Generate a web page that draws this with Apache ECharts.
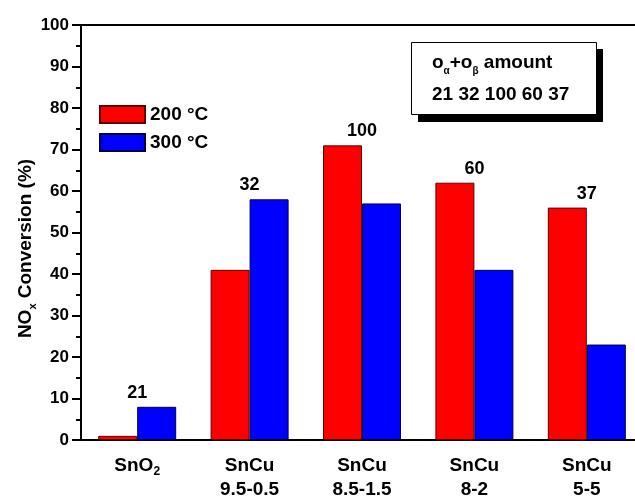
<!DOCTYPE html>
<html>
<head>
<meta charset="utf-8">
<script src="https://cdn.jsdelivr.net/npm/echarts@6/dist/echarts.min.js"></script>
<style>
  html, body { margin: 0; padding: 0; background: #fff; }
  #chart { width: 635px; height: 498px; }
</style>
</head>
<body>
<div id="chart"></div>
<script>
// 样品类别与数据
const categories = ['SnO2', 'SnCu\n9.5-0.5', 'SnCu\n8.5-1.5', 'SnCu\n8-2', 'SnCu\n5-5'];
const conv200 = [1, 41, 71, 62, 56];
const conv300 = [8, 58, 57, 41, 23];
const oxygenAmount = [21, 32, 100, 60, 37];

const FONT = 'Liberation Sans, Arial, sans-serif';

window.addEventListener('DOMContentLoaded', function() {
    initChart();
});

function initChart() {
    const myChart = echarts.init(document.getElementById('chart'));

    // 每组上方的氧含量标签，放在较高柱子上方
    const labelData = oxygenAmount.map((v, i) => ({
        value: Math.max(conv200[i], conv300[i]),
        amount: v
    }));

    const option = {
        animation: false,
        textStyle: { fontFamily: FONT },
        grid: {
            left: 81,
            top: 25,
            width: 562,
            height: 415,
            outerBoundsMode: 'none'
        },
        legend: {
            data: ['200 °C', '300 °C'],
            orient: 'vertical',
            left: 99,
            top: 105,
            padding: 0,
            icon: 'rect',
            itemWidth: 45,
            itemHeight: 17,
            itemGap: 9,
            textStyle: { fontSize: 19, fontWeight: 'bold', color: '#000', fontFamily: FONT }
        },
        xAxis: [
            {
                type: 'category',
                data: categories,
                axisLine: { lineStyle: { color: '#000', width: 2 } },
                axisTick: { alignWithLabel: true, length: 7, lineStyle: { width: 2, color: '#000' } },
                axisLabel: {
                    interval: 0,
                    margin: 14,
                    formatter: function(v) {
                        if (v === 'SnO2') return '{b|SnO}{s|2}';
                        return v.split('\n').map(t => '{b|' + t + '}').join('\n');
                    },
                    rich: {
                        b: { fontSize: 19, fontWeight: 'bold', color: '#000', fontFamily: FONT, lineHeight: 24 },
                        s: { fontSize: 12, fontWeight: 'bold', color: '#000', fontFamily: FONT, padding: [12, 0, 0, 0] }
                    }
                }
            },
            {
                type: 'category',
                position: 'top',
                data: categories,
                axisLine: { lineStyle: { color: '#000', width: 2 } },
                axisTick: { length: 4, inside: true, lineStyle: { color: '#000' } },
                axisLabel: { show: false }
            }
        ],
        yAxis: {
            type: 'value',
            min: 0,
            max: 100,
            interval: 10,
            name: '{b|NO}{s|x}{b| Conversion (%)}',
            nameLocation: 'middle',
            nameGap: 43,
            nameMoveOverlap: false,
            nameTextStyle: {
                padding: [0, 32, 0, 0],
                rich: {
                    b: { fontSize: 19, fontWeight: 'bold', color: '#000', fontFamily: FONT },
                    s: { fontSize: 11, fontWeight: 'bold', color: '#000', fontFamily: FONT, padding: [14, 0, 0, 0] }
                }
            },
            axisLine: { show: true, lineStyle: { color: '#000', width: 2 } },
            axisTick: { show: true, length: 9, lineStyle: { color: '#000', width: 2 } },
            minorTick: { show: true, splitNumber: 2, length: 5, lineStyle: { color: '#000', width: 2 } },
            splitLine: { show: false },
            axisLabel: {
                fontSize: 17,
                fontWeight: 'bold',
                color: '#000',
                margin: 12,
                fontFamily: FONT
            }
        },
        series: [
            {
                name: '200 °C',
                type: 'bar',
                data: conv200,
                barWidth: 39,
                barGap: '0%',
                itemStyle: { color: '#ff0000', borderColor: '#600000', borderWidth: 1 }
            },
            {
                name: '300 °C',
                type: 'bar',
                data: conv300,
                barWidth: 39,
                itemStyle: { color: '#0000ff', borderColor: '#000040', borderWidth: 1 }
            },
            {
                name: 'amount',
                type: 'scatter',
                data: labelData,
                symbolSize: 0,
                silent: true,
                itemStyle: { opacity: 1 },
                label: {
                    show: true,
                    position: 'top',
                    distance: 5,
                    opacity: 1,
                    formatter: p => String(p.data.amount),
                    fontSize: 18,
                    fontWeight: 'bold',
                    color: '#000',
                    fontFamily: FONT
                }
            }
        ],
        graphic: [
            {
                type: 'rect',
                left: 418,
                top: 49,
                shape: { width: 185, height: 73 },
                style: { fill: '#000' },
                z: 10
            },
            {
                type: 'rect',
                left: 411,
                top: 42,
                shape: { width: 185, height: 72 },
                style: { fill: '#fff', stroke: '#000', lineWidth: 1 },
                z: 11
            },
            {
                type: 'text',
                left: 432,
                top: 53,
                z: 12,
                style: {
                    text: '{b|o}{s|α}{b|+o}{s|β}{b| amount}',
                    rich: {
                        b: { fontSize: 19, fontWeight: 'bold', fill: '#000', fontFamily: FONT },
                        s: { fontSize: 10, fontWeight: 'bold', fill: '#000', fontFamily: FONT, padding: [18, 0, 0, 0] }
                    }
                }
            },
            {
                type: 'text',
                left: 432,
                top: 85,
                z: 12,
                style: {
                    text: oxygenAmount.join(' '),
                    fontSize: 19,
                    fontWeight: 'bold',
                    fill: '#000',
                    fontFamily: FONT
                }
            }
        ]
    };

    myChart.setOption(option);
    window.addEventListener('resize', () => myChart.resize());
}
</script>
</body>
</html>
